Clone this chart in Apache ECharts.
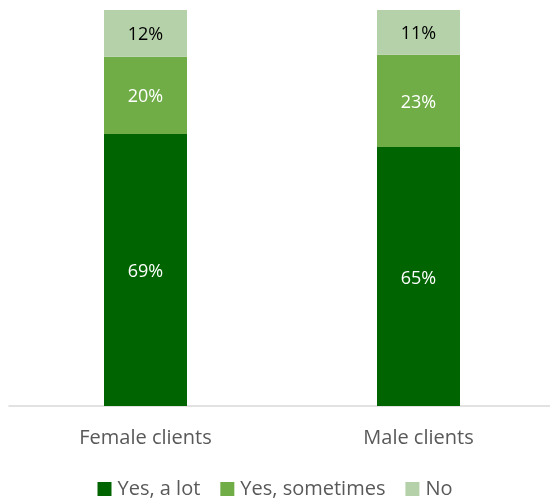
<!DOCTYPE html>
<html>
<head>
<meta charset="utf-8">
<script src="https://cdn.jsdelivr.net/npm/echarts@6/dist/echarts.min.js"></script>
<style>
  html, body { margin: 0; padding: 0; background: #fff; }
  #chart { width: 550px; height: 500px; }
</style>
</head>
<body>
<div id="chart"></div>
<script>
const categories = ['Female clients', 'Male clients']
const seriesNames = ['Yes, a lot', 'Yes, sometimes', 'No']
const yesALot = [68.7, 65.4]
const yesSometimes = [19.5, 23.3]
const no = [11.8, 11.3]

const colors = ['#006400', '#70AD47', '#B5D1A9']
const labelColors = ['#fff', '#fff', '#000']
const font = '"Open Sans", "Liberation Sans", sans-serif'

const chart = echarts.init(document.getElementById('chart'))
chart.setOption({
  animation: false,
  grid: { left: 9, top: 10, width: 546, height: 396, outerBoundsMode: 'none' },
  legend: {
    top: 474,
    left: 'center',
    itemWidth: 14,
    itemHeight: 14,
    itemGap: 20,
    icon: 'rect',
    textStyle: { color: '#595959', fontSize: 20, fontFamily: font, padding: [0, 0, 0, 1] },
    data: seriesNames
  },
  xAxis: {
    type: 'category',
    data: categories,
    axisTick: { show: false },
    axisLine: { lineStyle: { color: '#D9D9D9', width: 1.5 } },
    axisLabel: { color: '#595959', fontSize: 20, fontFamily: font, margin: 22 }
  },
  yAxis: {
    type: 'value',
    min: 0,
    max: 100,
    show: false
  },
  series: [yesALot, yesSometimes, no].map((data, i) => ({
    name: seriesNames[i],
    type: 'bar',
    stack: 'total',
    data: data,
    barWidth: 83,
    itemStyle: { color: colors[i] },
    label: {
      show: true,
      position: 'inside',
      offset: [0, 2],
      color: labelColors[i],
      fontSize: 18,
      fontFamily: font,
      formatter: p => Math.round(p.value) + '%'
    }
  }))
})
</script>
</body>
</html>
